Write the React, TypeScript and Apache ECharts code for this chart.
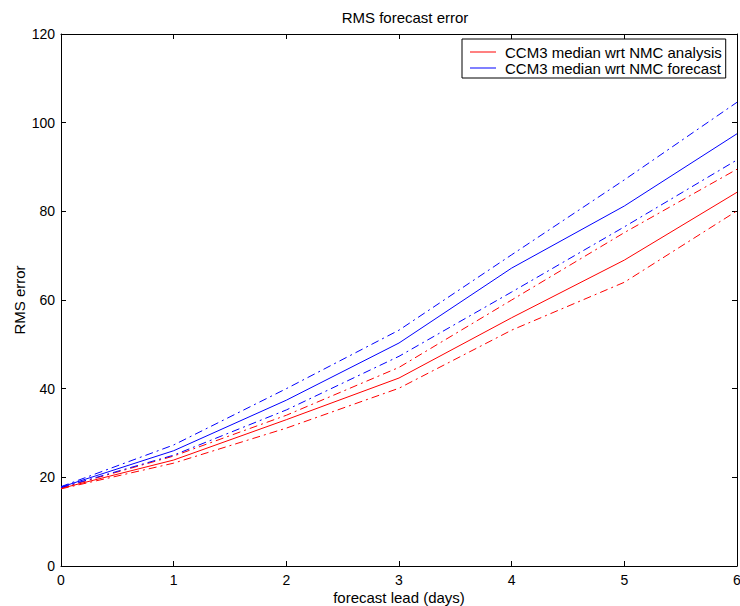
import React, { useEffect, useRef } from "react";
import * as echarts from "echarts";

const days = [0, 1, 2, 3, 4, 5, 6];
const analysisMedian = [17.5, 23.9, 33.0, 42.4, 56.0, 69.0, 84.3];
const analysisUpper = [17.6, 24.8, 34.0, 44.8, 60.0, 75.2, 89.5];
const analysisLower = [17.4, 23.2, 31.1, 40.1, 53.2, 64.0, 80.1];
const forecastMedian = [17.8, 26.0, 37.4, 50.3, 67.2, 81.2, 97.5];
const forecastUpper = [17.9, 27.3, 40.0, 53.2, 70.2, 87.1, 104.6];
const forecastLower = [17.7, 25.0, 35.2, 47.3, 61.8, 76.5, 91.6];

const FONT = "'Liberation Sans', Arial, Helvetica, sans-serif";
const RED = "#ff0000";
const BLUE = "#0000ff";
const DASHDOT = [8, 4, 2, 4];

const pairs = (ys: number[]) => days.map((d, i) => [d, ys[i]]);

export default function App() {
  const ref = useRef<HTMLDivElement>(null);
  useEffect(() => {
    document.body.style.margin = "0";
    if (!ref.current) return;
    const chart = echarts.init(ref.current, undefined, { renderer: "svg" });
    const mk = (name: string, ys: number[], color: string, dashed: boolean) => ({
      name,
      type: "line",
      data: pairs(ys),
      symbol: "none",
      lineStyle: { color, width: 1, type: dashed ? DASHDOT : "solid" },
      itemStyle: { color },
      xAxisIndex: 0,
      yAxisIndex: 0,
      z: 3,
    });
    const axisCommon = {
      axisLine: { show: true, onZero: false, lineStyle: { color: "#000", width: 1 } },
      axisTick: { show: true, inside: true, length: 5, lineStyle: { color: "#000" } },
      splitLine: { show: false },
    };
    const labelStyle = { fontFamily: FONT, fontSize: 14, color: "#000" };
    const nameStyle = { fontFamily: FONT, fontSize: 15, color: "#000" };
    chart.setOption({
      animation: false,
      backgroundColor: "#fff",
      title: {
        text: "RMS forecast error",
        left: 400,
        textAlign: "center",
        top: 5,
        textStyle: { ...nameStyle, fontWeight: "normal" },
      },
      legend: {
        data: [
          { name: "CCM3 median wrt NMC analysis" },
          { name: "CCM3 median wrt NMC forecast" },
        ],
        orient: "vertical",
        left: 462,
        top: 39,
        icon: "rect",
        itemWidth: 26,
        itemHeight: 1,
        itemGap: 0,
        padding: [5, 4, 2, 8],
        borderColor: "#000",
        borderWidth: 1,
        borderRadius: 0,
        backgroundColor: "#fff",
        textStyle: { ...nameStyle, lineHeight: 16, padding: [0, 0, 0, 4] },
      },
      grid: {
        left: 61,
        right: 3,
        top: 34,
        bottom: 40,
        containLabel: false,
        outerBoundsMode: "none",
      },
      xAxis: [
        {
          type: "value",
          min: 0,
          max: 6,
          interval: 1,
          name: "forecast lead (days)",
          nameLocation: "middle",
          nameGap: 24,
          nameMoveOverlap: false,
          nameTextStyle: nameStyle,
          axisLabel: { ...labelStyle, margin: 7 },
          ...axisCommon,
        },
        {
          type: "value",
          position: "top",
          min: 0,
          max: 6,
          interval: 1,
          axisLabel: { show: false },
          ...axisCommon,
        },
      ],
      yAxis: [
        {
          type: "value",
          min: 0,
          max: 120,
          interval: 20,
          name: "RMS error",
          nameLocation: "middle",
          nameGap: 34,
          nameMoveOverlap: false,
          nameTextStyle: nameStyle,
          axisLabel: { ...labelStyle, margin: 6 },
          ...axisCommon,
        },
        {
          type: "value",
          position: "right",
          min: 0,
          max: 120,
          interval: 20,
          axisLabel: { show: false },
          ...axisCommon,
        },
      ],
      series: [
        mk("CCM3 median wrt NMC analysis", analysisMedian, RED, false),
        mk("CCM3 median wrt NMC forecast", forecastMedian, BLUE, false),
        mk("analysis upper", analysisUpper, RED, true),
        mk("analysis lower", analysisLower, RED, true),
        mk("forecast upper", forecastUpper, BLUE, true),
        mk("forecast lower", forecastLower, BLUE, true),
      ],
    });
    return () => chart.dispose();
  }, []);
  return <div ref={ref} style={{ width: 740, height: 606 }} />;
}
